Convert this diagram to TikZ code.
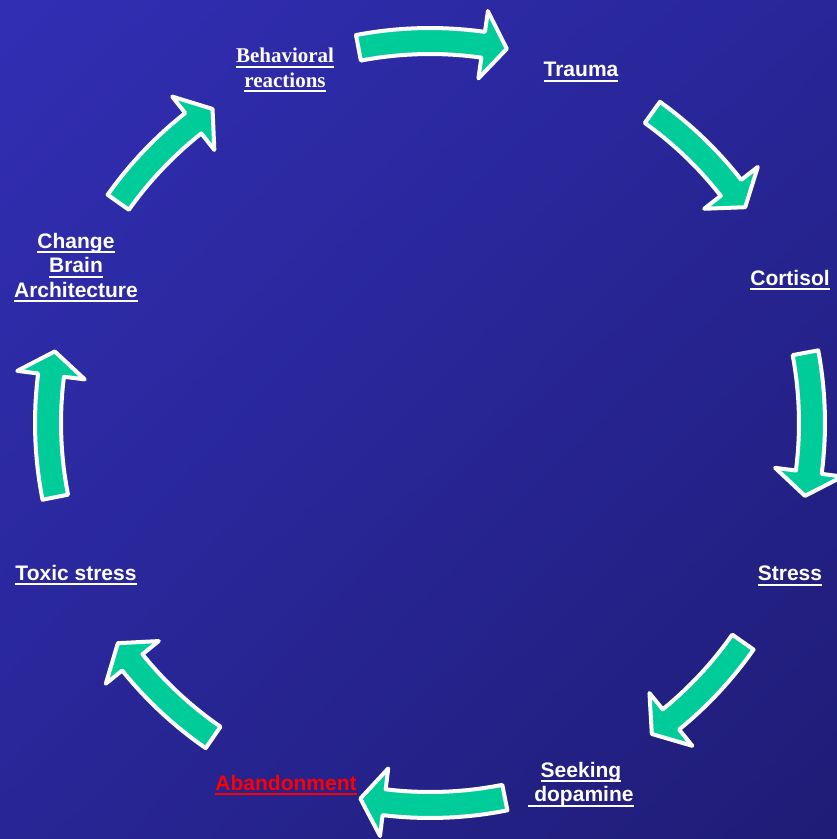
\documentclass[tikz,border=0pt]{standalone}
\usepackage{fontspec}
\setmainfont{Liberation Sans}
\newfontfamily\serifbold{Liberation Serif}
\usetikzlibrary{shadings}
\definecolor{bgul}{RGB}{50,46,180}
\definecolor{bgur}{RGB}{40,38,152}
\definecolor{bgll}{RGB}{40,38,150}
\definecolor{bglr}{RGB}{31,28,118}
\definecolor{arrowteal}{RGB}{0,204,153}
\definecolor{abandred}{RGB}{255,0,0}
% underlined word, thick rule under the full advance width
\newcommand{\uword}[1]{\setbox0=\hbox{#1}\rlap{\rule[-5pt]{\wd0}{2pt}}\box0}

\begin{document}
\begin{tikzpicture}[x=1pt, y=-1pt,
        lbl/.style={inner sep=0pt, anchor=north, align=center, text=white, font=\fontsize{21}{24.5}\selectfont\bfseries},
        cyclearrow/.style={fill=arrowteal, draw=white, line width=4pt, line join=round}]
    \clip (0,0) rectangle (837,839);
    \shade[upper left=bgul, upper right=bgur, lower left=bgll, lower right=bglr] (0,0) rectangle (837,839);

    % labels round the cycle
    \node[lbl, font=\fontsize{21}{24.5}\selectfont\serifbold\bfseries] (behav) at (285,48) {\uword{Behavioral}\\\uword{reactions}};
    \node[lbl] (trauma) at (581,62) {\uword{Trauma}};
    \node[lbl] (cortisol) at (790,270) {\uword{Cortisol}};
    \node[lbl] (stress) at (790,566) {\uword{Stress}};
    \node[lbl] (seeking) at (581,762) {\uword{Seeking}\\\uword{\ dopamine}};
    \node[lbl, text=abandred] (abandon) at (286,775) {\uword{Abandonment}};
    \node[lbl] (toxic) at (76,565) {\uword{Toxic stress}};
    \node[lbl] (brain) at (76,233) {\uword{Change}\\\uword{Brain}\\\uword{Architecture}};

    % curved block arrows, all on one circle
    \begin{scope}[shift={(430,423)}]
        \foreach \a/\b in {-100.8/-78.4, -54.4/-34.4, -10.6/11.0, 35.0/54.5, 78.7/100.5, 124.6/144.8, 168.8/190.8, 215.3/235.3}{
            \pgfmathsetmacro\c{\b-3.6}
            \draw[cyclearrow] plot[domain=\a:\c, samples=14] (\x:395) -- (\c:416) -- (\b:382) -- (\c:348)
                -- plot[domain=\c:\a, samples=14] (\x:369) -- cycle;
        }
    \end{scope}
\end{tikzpicture}
\end{document}
